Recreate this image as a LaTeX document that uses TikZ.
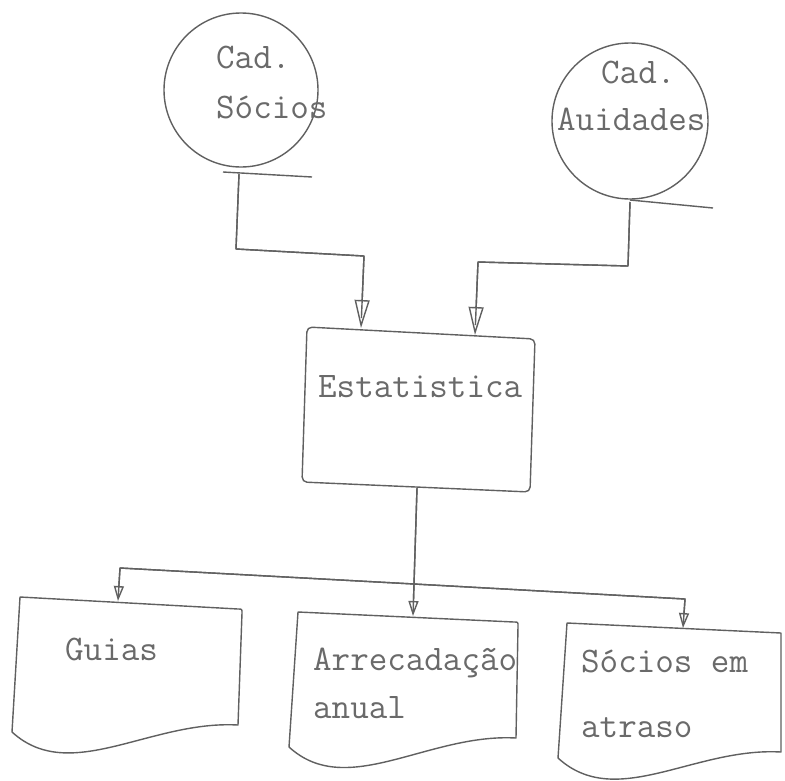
\documentclass[tikz,border=0pt]{standalone}
\usepackage{fontspec}
\usetikzlibrary{arrows.meta}
\definecolor{ink}{HTML}{606060}
\definecolor{typ}{HTML}{6A6A6A}
\begin{document}
\begin{tikzpicture}[x=1pt,y=-1pt,
  line/.style={draw=ink, line width=1.4pt, line join=round},
  txt/.style={anchor=base west, inner sep=0pt, text=typ, font=\fontsize{36}{40}\selectfont\ttfamily},
  bigarr/.style={line, -{Triangle[open,length=28pt,width=15pt]}, postaction={draw=ink,-,shorten >=10pt}},
  smallarr/.style={line, -{Triangle[open,length=15pt,width=10pt]}, postaction={draw=ink,-,shorten >=5pt}},
  tape/.style={circle, line, inner sep=0pt}
]
\fill[white] (0,0) rectangle (785,780);
\useasboundingbox (0,0) rectangle (785,780);

% --- files (circles)
\node[tape, minimum size=154pt] (c1) at (241,90) {};
\node[txt] (c1a) at (216,68) {Cad.};
\node[txt] (c1b) at (216,118) {Sócios};
\coordinate (c1t) at (223,172);
\coordinate (c1e) at (312,177);
\draw[line] (c1t) -- (c1e);

\node[tape, minimum size=156pt] (c2) at (630,121) {};
\node[txt] (c2a) at (601,83) {Cad.};
\node[txt] (c2b) at (557,130) {Auidades};
\coordinate (c2t) at (630,200);
\coordinate (c2e) at (713,208);
\draw[line] (c2t) -- (c2e);

% --- process box
\draw[line, rounded corners=5pt] (307,327) -- (535,339) -- (530,492) -- (302,482) -- cycle;
\node[txt] (est) at (318,397) {Estatistica};
\coordinate (estL) at (361,328);
\coordinate (estR) at (475,335);
\coordinate (estB) at (417,488);

% --- inputs
\coordinate (c1d) at (239,174);
\coordinate (b1) at (236,249);
\coordinate (b2) at (364,256);
\draw[bigarr] (c1d) -- (b1) -- (b2) -- (estL);

\coordinate (c2d) at (630,202);
\coordinate (b3) at (628,266);
\coordinate (b4) at (478,262);
\draw[bigarr] (c2d) -- (b3) -- (b4) -- (estR);

% --- documents
\draw[line] (20,597) -- (238,609) .. controls (242,609) .. (242,613) -- (238,725)
  .. controls (150,720) and (70,785) .. (12,732) -- cycle;
\node[txt] (g) at (65,660) {Guias};

\draw[line] (298,612) -- (514,622) .. controls (518,622) .. (518,626) -- (516,738)
  .. controls (428,733) and (347,800) .. (289,747) -- cycle;
\node[txt] (a1) at (313,670) {Arrecadação};
\node[txt] (a2) at (313,718) {anual};

\draw[line] (567,623) -- (781,633) -- (781,752)
  .. controls (694,747) and (616,811) .. (558,758) -- cycle;
\node[txt] (s1) at (581,672) {Sócios em};
\node[txt] (s2) at (581,737) {atraso};

% --- outputs
\coordinate (gt) at (118,601);
\coordinate (at) at (413,616);
\coordinate (st) at (683,628);
\coordinate (j) at (414,584);
\coordinate (dl) at (120,568);
\coordinate (dr) at (685,599);
\draw[smallarr] (estB) -- (at);
\draw[smallarr] (j) -- (dl) -- (gt);
\draw[smallarr] (j) -- (dr) -- (st);
\end{tikzpicture}
\end{document}
